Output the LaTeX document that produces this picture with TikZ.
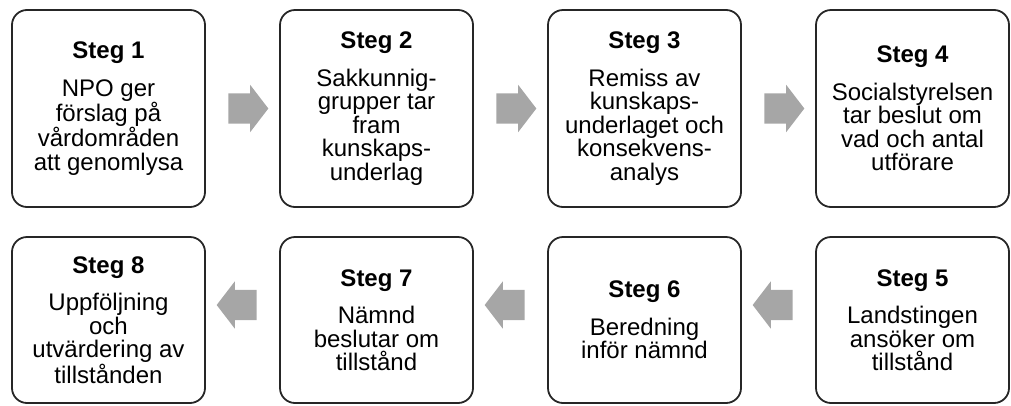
\documentclass[tikz,border=0pt]{standalone}
\usepackage{fontspec}
\setmainfont{Liberation Sans}
\usetikzlibrary{positioning,shapes.arrows,calc}
\definecolor{pilgra}{RGB}{166,166,166}

\begin{document}
\begin{tikzpicture}[x=1pt, y=1pt, node distance=73.2pt,
  every node/.style = {align=center, font=\fontsize{24}{23.5}\selectfont},
  stegbox/.style = {shape=rectangle, rounded corners=15pt,
    draw=black!85, line width=1.8pt, minimum width=193pt, inner sep=0pt},
  toprow/.style = {stegbox, minimum height=197pt},
  botrow/.style = {stegbox, minimum height=166pt},
  pil/.style = {single arrow, fill=pilgra, draw=none,
    inner xsep=0pt, inner ysep=15pt, minimum height=40pt,
    single arrow head extend=8.5pt, single arrow tip angle=105}]
  \useasboundingbox (0,0) rectangle (1011,-405);
  % oevre raden
  \node[toprow] (s1) at (108.5,-108.5) {\textbf{Steg 1}\\[14pt] NPO ger\\förslag på\\vårdområden\\att genomlysa};
  \node[toprow, right=of s1] (s2) {\textbf{Steg 2}\\[14pt] Sakkunnig-\\grupper tar\\fram\\kunskaps-\\underlag};
  \node[toprow, right=of s2] (s3) {\textbf{Steg 3}\\[14pt] Remiss av\\kunskaps-\\underlaget och\\konsekvens-\\analys};
  \node[toprow, right=of s3] (s4) {\textbf{Steg 4}\\[14pt] Socialstyrelsen\\tar beslut om\\vad och antal\\utförare};
  % nedre raden
  \node[botrow] (s8) at (108.5,-320) {\textbf{Steg 8}\\[14pt] Uppföljning\\och\\utvärdering av\\tillstånden};
  \node[botrow, right=of s8] (s7) {\textbf{Steg 7}\\[14pt] Nämnd\\beslutar om\\tillstånd};
  \node[botrow, right=of s7] (s6) {\textbf{Steg 6}\\[14pt] Beredning\\inför nämnd};
  \node[botrow, right=of s6] (s5) {\textbf{Steg 5}\\[14pt] Landstingen\\ansöker om\\tillstånd};
  % pilar
  \node[pil] (p12) at ($(s1.east)!0.5!(s2.west)$) {};
  \node[pil] (p23) at ($(s2.east)!0.5!(s3.west)$) {};
  \node[pil] (p34) at ($(s3.east)!0.5!(s4.west)$) {};
  \node[pil, shape border rotate=180] (p56) at ($(s6.east)!0.5!(s5.west)+(0,15)$) {};
  \node[pil, shape border rotate=180] (p67) at ($(s7.east)!0.5!(s6.west)+(0,15)$) {};
  \node[pil, shape border rotate=180] (p78) at ($(s8.east)!0.5!(s7.west)+(0,15)$) {};
\end{tikzpicture}
\end{document}
